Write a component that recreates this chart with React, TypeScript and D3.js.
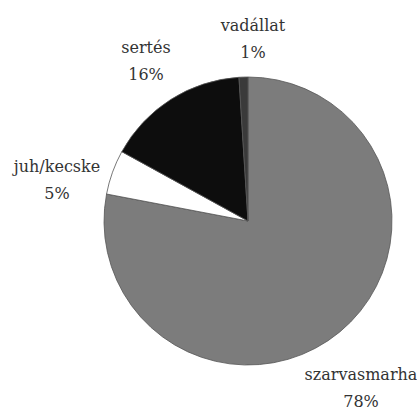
import React from "react";
import * as d3 from "d3";

const categories = ["szarvasmarha", "juh/kecske", "sertés", "vadállat"];
const values = [78, 5, 16, 1];
const labels = ["78%", "5%", "16%", "1%"];
const colors = ["#7c7c7c", "#ffffff", "#0d0d0d", "#3a3a3a"];
const labelPos = [
  [361, 380],
  [57, 172],
  [146, 53],
  [253, 31],
];

export default function App() {
  const W = 417, H = 413;
  const cx = 248, cy = 221, r = 144;
  const pie = d3.pie<number>().sort(null).value((d) => d)(values);
  const arc = d3.arc<d3.PieArcDatum<number>>().innerRadius(0).outerRadius(r);
  return (
    <svg width={W} height={H} style={{ position: "absolute", left: 0, top: 0, background: "#fff" }}>
      <g transform={`translate(${cx},${cy})`}>
        {pie.map((p, i) => (
          <path key={i} d={arc(p) || ""} fill={colors[i]} stroke="#555" strokeWidth={0.8} />
        ))}
      </g>
      {categories.map((c, i) => (
        <text
          key={c}
          x={labelPos[i][0]}
          y={labelPos[i][1]}
          textAnchor="middle"
          style={{ fontFamily: "'DejaVu Serif', serif", fontSize: "16px" }}
          fill="#333"
        >
          <tspan x={labelPos[i][0]}>{c}</tspan>
          <tspan x={labelPos[i][0]} dy={27}>{labels[i]}</tspan>
        </text>
      ))}
    </svg>
  );
}
